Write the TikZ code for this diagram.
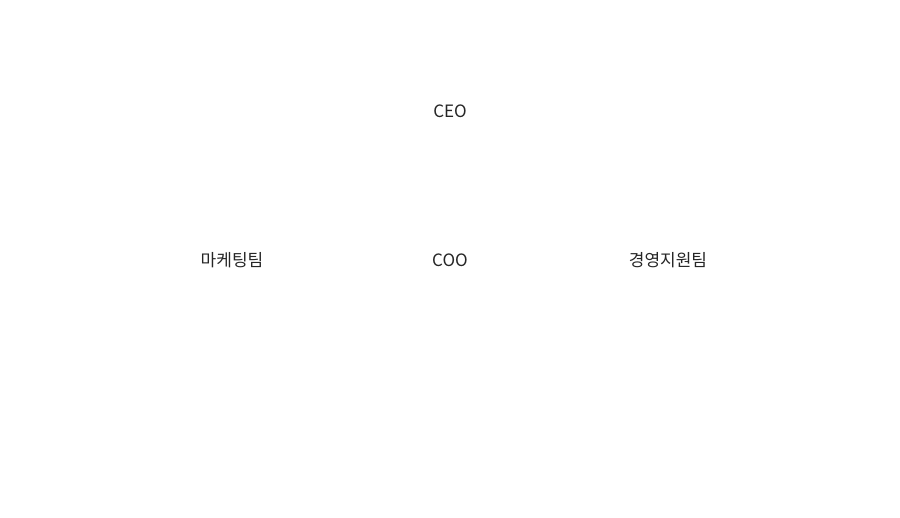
\documentclass[tikz,border=0pt]{standalone}
\usepackage{fontspec}
\setmainfont{Noto Sans CJK KR}
\begin{document}
\begin{tikzpicture}[x=1pt,y=-1pt,lbl/.style={font=\fontsize{17}{20}\selectfont,text=black!85,inner sep=0pt}]
\useasboundingbox[fill=white] (0,0) rectangle (900,518);
\node[lbl] (ceo) at (450,111) {CEO};
\node[lbl] (mkt) at (232,260) {마케팅팀};
\node[lbl] (coo) at (450,260) {COO};
\node[lbl] (mgmt) at (668,260) {경영지원팀};
\end{tikzpicture}
\end{document}
